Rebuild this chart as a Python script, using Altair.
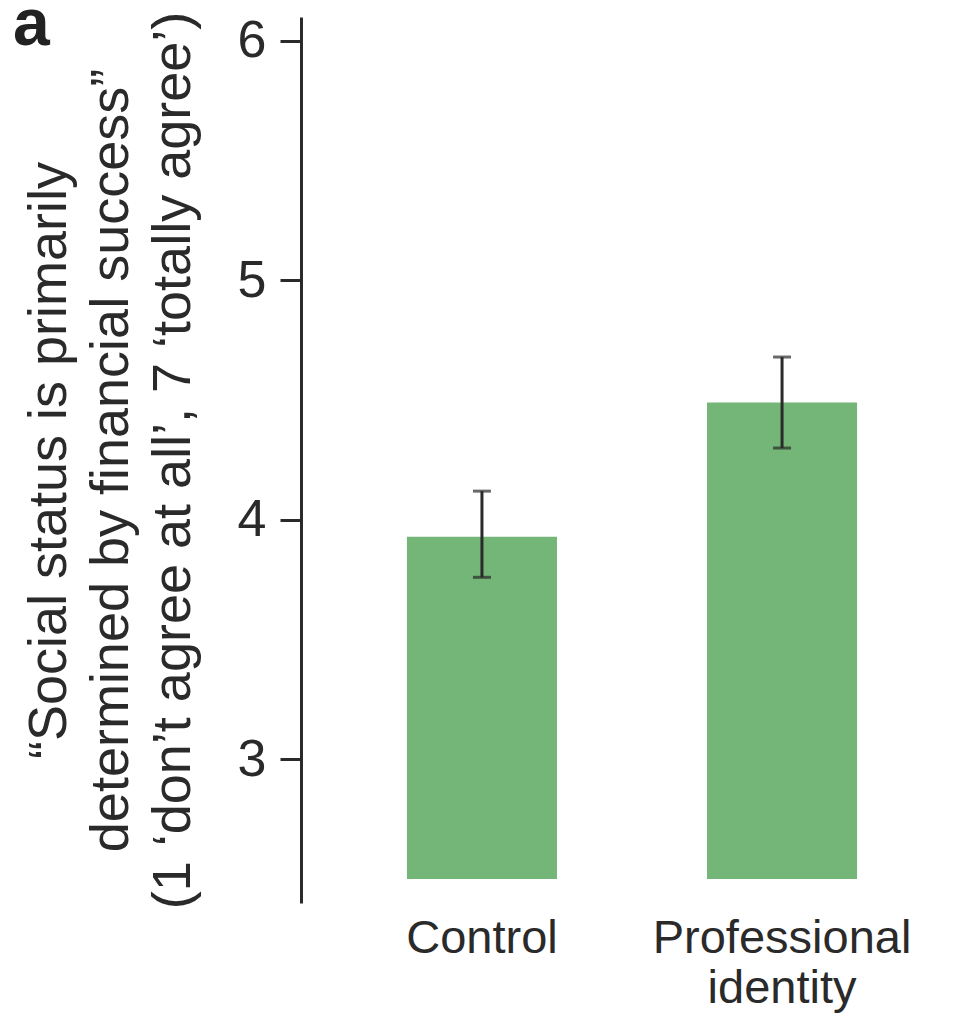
import altair as alt
import pandas as pd

# Data
conditions = ["Control", "Professional identity"]
means = [3.93, 4.49]
ci_low = [3.76, 4.30]
ci_high = [4.12, 4.68]
bar_base = [2.5, 2.5]
y_ticks = [3, 4, 5, 6]
y_title = [
    "\u201cSocial status is primarily",
    "determined by financial success\u201d",
    "(1 \u2018don\u2019t agree at all\u2019, 7 \u2018totally agree\u2019)",
]
panel_label = ["a"]

df = pd.DataFrame({
    "condition": conditions,
    "mean": means,
    "low": ci_low,
    "high": ci_high,
    "base": bar_base,
})

GREEN = "#74b677"
INK = "#2a2a2a"

x_enc = alt.X(
    "condition:N",
    sort=conditions,
    scale=alt.Scale(paddingInner=0.5, paddingOuter=0.353),
    axis=alt.Axis(
        title=None,
        labelAngle=0,
        domain=False,
        ticks=False,
        tickSize=0,
        labelFont="Liberation Sans, Arial",
        labelFontSize=47,
        labelLineHeight=50,
        labelColor=INK,
        labelPadding=12,
        labelLimit=0,
        labelOverlap=False,
        labelExpr="split(datum.label, ' ')",
    ),
)

y_scale = alt.Scale(domain=[2.4, 6.1], nice=False, zero=False)

bars = alt.Chart(df).mark_bar(color=GREEN).encode(
    x=x_enc,
    y=alt.Y(
        "mean:Q",
        scale=y_scale,
        axis=alt.Axis(
            values=y_ticks,
            format="d",
            grid=False,
            title=y_title,
            titleFont="Liberation Sans, Arial",
            titleFontSize=54,
            titleFontWeight="normal",
            titleLineHeight=62,
            titlePadding=37,
            titleColor=INK,
            labelFont="Liberation Sans, Arial",
            labelFontSize=52,
            labelColor=INK,
            labelPadding=14,
            tickSize=21,
            tickWidth=3,
            tickColor=INK,
            domainWidth=3,
            domainColor=INK,
        ),
    ),
    y2=alt.Y2("base:Q"),
)

rules = alt.Chart(df).mark_rule(color=INK, strokeWidth=3).encode(
    x=alt.X("condition:N", sort=conditions),
    y=alt.Y("low:Q", scale=y_scale),
    y2=alt.Y2("high:Q"),
)

caps_low = alt.Chart(df).mark_tick(color=INK, size=18, thickness=3).encode(
    x=alt.X("condition:N", sort=conditions),
    y=alt.Y("low:Q", scale=y_scale),
)
caps_high = alt.Chart(df).mark_tick(color=INK, size=18, thickness=3).encode(
    x=alt.X("condition:N", sort=conditions),
    y=alt.Y("high:Q", scale=y_scale),
)

panel = alt.Chart(pd.DataFrame({"panel": panel_label})).mark_text(
    font="Liberation Sans, Arial",
    fontSize=66,
    fontWeight="bold",
    color="#222222",
    align="left",
    baseline="alphabetic",
).encode(
    text="panel:N",
    x=alt.value(-288),
    y=alt.value(28),
)

chart = alt.layer(bars, rules, caps_low, caps_high, panel).properties(
    width=662,
    height=886,
    padding={"left": 293, "top": 9, "right": 2, "bottom": 110},
    autosize=alt.AutoSizeParams(type="none"),
    view=alt.ViewBackground(stroke="transparent", strokeWidth=0),
).configure_view(stroke="transparent", strokeWidth=0).configure(background="white")

chart.save("out.html", embed_options={"renderer": "svg", "actions": False})
